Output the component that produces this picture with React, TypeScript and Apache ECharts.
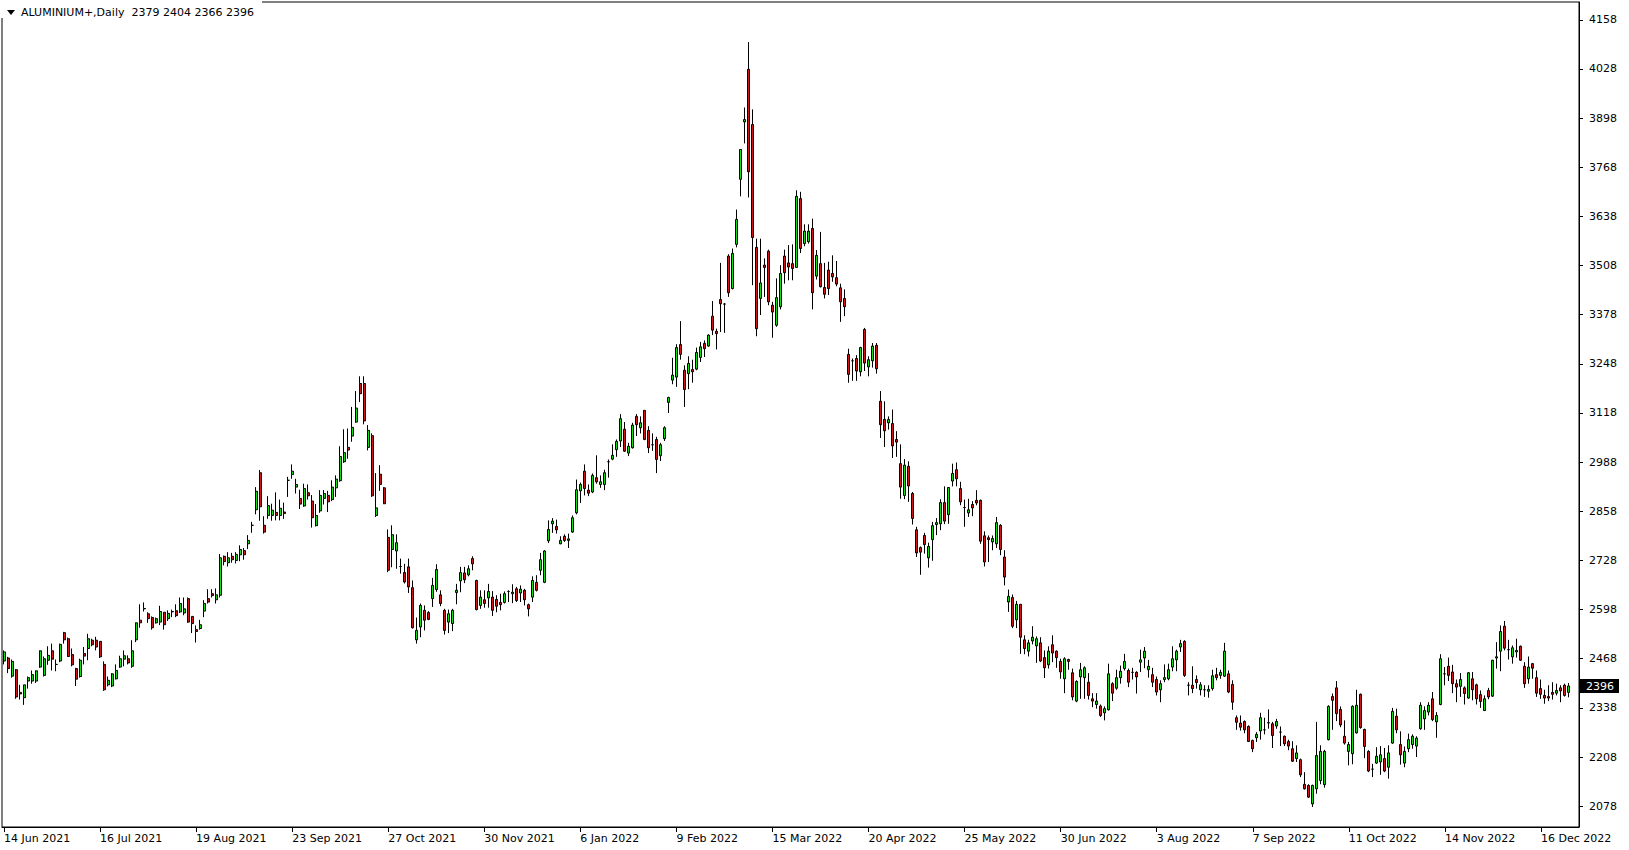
import { useEffect, useRef } from "react";
import * as echarts from "echarts";

const FONT = '"DejaVu Sans", Verdana, sans-serif';
const HEADER = "ALUMINIUM+,Daily  2379 2404 2366 2396";
const LAST_PRICE = 2396;
const START_DATE = [2021, 5, 14];
const LABEL_EVERY = 24;
const PAD_BARS = 2;
const HOLIDAYS = [
  "2021-08-30", "2021-12-27", "2021-12-28", "2022-01-03", "2022-04-15", "2022-04-18",
  "2022-05-02", "2022-06-02", "2022-06-03", "2022-08-29", "2022-12-26", "2022-12-27",
];
const MONTHS = ["Jan", "Feb", "Mar", "Apr", "May", "Jun", "Jul", "Aug", "Sep", "Oct", "Nov", "Dec"];
const PRICE_TICKS = [2078, 2208, 2338, 2468, 2598, 2728, 2858, 2988, 3118, 3248, 3378, 3508, 3638, 3768, 3898, 4028, 4158];
const Y_MIN = 2023;
const Y_MAX = 4205;

const opens = [
  2462,2470,2422,2439,2379,2365,2409,2409,2409,2446,
  2424,2464,2489,2453,2462,2537,2521,2479,2442,2421,
  2482,2495,2517,2517,2514,2453,2399,2396,2415,2446,
  2467,2468,2448,2518,2570,2600,2587,2577,2563,2565,
  2591,2574,2593,2595,2592,2589,2627,2580,2545,2548,
  2594,2627,2640,2624,2636,2739,2722,2739,2728,2743,
  2754,2772,2821,2862,2960,2821,2847,2847,2855,2847,
  2856,2940,2955,2922,2892,2872,2907,2885,2820,2859,
  2892,2900,2889,2920,2939,2989,3027,3057,3094,3196,
  3196,3027,3058,2847,2956,2920,2789,2757,2753,2712,
  2696,2711,2656,2518,2552,2596,2590,2627,2651,2637,
  2596,2565,2561,2643,2674,2695,2690,2733,2675,2609,
  2624,2629,2631,2625,2617,2617,2646,2640,2653,2642,
  2649,2611,2631,2670,2702,2670,2780,2825,2818,2772,
  2792,2781,2803,2854,2912,2964,2914,2909,2947,2929,
  2929,2989,2996,3021,3044,3075,3012,3026,3109,3079,
  3125,3072,3034,3048,3005,3050,3146,3205,3213,3299,
  3231,3222,3233,3234,3265,3302,3295,3374,3334,3418,
  3406,3533,3447,3564,3736,3888,4027,3881,3556,3421,
  3509,3546,3403,3350,3399,3533,3515,3513,3503,3685,
  3566,3571,3606,3480,3513,3450,3496,3487,3476,3449,
  3421,3273,3256,3262,3227,3339,3240,3256,3297,3149,
  3101,3092,3090,3048,2984,2900,2977,2905,2809,2762,
  2794,2735,2783,2823,2825,2881,2849,2938,2968,2918,
  2868,2854,2876,2887,2887,2793,2788,2777,2772,2821,
  2737,2618,2630,2571,2612,2518,2488,2515,2502,2510,
  2471,2452,2505,2488,2461,2415,2466,2431,2356,2420,
  2418,2406,2362,2347,2343,2325,2333,2402,2390,2418,
  2442,2437,2432,2432,2459,2470,2439,2426,2413,2386,
  2413,2415,2446,2465,2499,2514,2398,2398,2413,2386,
  2386,2382,2389,2426,2424,2422,2428,2400,2312,2298,
  2302,2289,2252,2259,2277,2280,2299,2296,2290,2274,
  2263,2249,2230,2204,2201,2136,2133,2084,2124,2146,
  2135,2254,2368,2391,2334,2263,2223,2217,2272,2374,
  2281,2223,2176,2192,2195,2204,2181,2245,2316,2241,
  2192,2230,2241,2237,2283,2309,2327,2362,2301,2347,
  2428,2448,2433,2402,2395,2391,2364,2415,2399,2373,
  2331,2384,2369,2470,2488,2554,2492,2473,2486,2501,
  2448,2415,2455,2418,2389,2371,2368,2379,2377,2391,
  2398,2379,
];

const highs = [
  2490,2473,2466,2441,2399,2399,2421,2437,2437,2490,
  2474,2501,2508,2466,2508,2539,2524,2495,2444,2468,
  2499,2534,2521,2526,2514,2461,2421,2430,2453,2476,
  2490,2477,2517,2564,2612,2617,2591,2580,2577,2608,
  2591,2596,2598,2612,2630,2630,2630,2580,2556,2571,
  2623,2652,2652,2654,2745,2741,2750,2748,2750,2768,
  2761,2795,2830,2922,2967,2845,2898,2878,2908,2889,
  2881,2949,2982,2944,2915,2931,2929,2901,2877,2914,
  2914,2912,2940,2953,3030,3075,3077,3134,3176,3215,
  3215,3086,3064,2959,2980,2922,2810,2821,2797,2733,
  2719,2733,2675,2577,2614,2609,2594,2682,2718,2649,
  2600,2598,2600,2666,2711,2711,2715,2739,2677,2649,
  2649,2666,2647,2636,2640,2646,2649,2665,2658,2662,
  2653,2614,2686,2689,2748,2755,2834,2840,2836,2792,
  2797,2799,2847,2942,2934,2982,2929,2958,3006,2953,
  2968,2995,3035,3048,3115,3094,3039,3092,3115,3109,
  3125,3083,3064,3055,3039,3083,3161,3264,3300,3361,
  3244,3268,3259,3291,3306,3310,3326,3414,3341,3515,
  3409,3538,3553,3656,3815,3926,4099,3921,3579,3579,
  3527,3550,3412,3474,3509,3550,3562,3564,3707,3703,
  3617,3617,3632,3549,3597,3515,3518,3535,3520,3460,
  3445,3288,3262,3271,3293,3343,3268,3303,3303,3176,
  3149,3109,3127,3070,3035,2996,2990,2909,2817,2765,
  2801,2775,2830,2840,2890,2924,2922,2984,2987,2936,
  2889,2891,2885,2914,2889,2805,2794,2794,2843,2824,
  2755,2651,2638,2621,2612,2530,2518,2554,2527,2525,
  2490,2501,2530,2490,2468,2472,2468,2442,2411,2457,
  2448,2430,2377,2377,2347,2342,2455,2406,2439,2450,
  2481,2442,2444,2435,2492,2499,2465,2444,2421,2411,
  2453,2455,2501,2492,2518,2517,2406,2448,2424,2406,
  2398,2398,2439,2444,2439,2510,2437,2411,2318,2318,
  2305,2292,2254,2274,2325,2312,2334,2301,2309,2289,
  2265,2254,2250,2239,2204,2168,2136,2135,2301,2239,
  2227,2345,2376,2409,2342,2305,2248,2345,2386,2376,
  2283,2226,2190,2234,2237,2232,2239,2338,2336,2276,
  2236,2270,2268,2263,2353,2342,2353,2380,2327,2480,
  2446,2471,2452,2413,2430,2395,2433,2433,2402,2384,
  2371,2391,2465,2512,2556,2568,2518,2503,2521,2503,
  2459,2474,2457,2437,2413,2386,2398,2406,2402,2398,
  2402,2404,
];

const lows = [
  2453,2430,2418,2362,2360,2346,2389,2402,2404,2444,
  2421,2452,2437,2435,2459,2508,2473,2448,2396,2418,
  2453,2464,2501,2490,2470,2383,2395,2393,2413,2444,
  2448,2453,2444,2512,2550,2593,2563,2545,2561,2557,
  2545,2568,2578,2578,2589,2583,2563,2536,2511,2545,
  2578,2614,2630,2614,2630,2715,2712,2722,2720,2726,
  2730,2758,2801,2850,2833,2799,2838,2833,2834,2834,
  2838,2896,2944,2905,2864,2870,2889,2815,2818,2854,
  2876,2856,2885,2896,2936,2986,2997,3042,3092,3147,
  3088,3019,2896,2843,2912,2877,2697,2710,2706,2693,
  2667,2642,2548,2508,2525,2543,2570,2605,2645,2607,
  2532,2536,2541,2612,2644,2668,2686,2702,2596,2600,
  2603,2603,2581,2591,2596,2614,2618,2615,2618,2618,
  2609,2580,2618,2646,2689,2668,2774,2801,2799,2771,
  2777,2761,2801,2850,2880,2900,2898,2906,2931,2920,
  2914,2947,2993,3002,3028,3015,3004,3024,3057,3064,
  3046,3012,3018,2959,2991,3044,3118,3194,3187,3259,
  3134,3181,3198,3231,3253,3266,3293,3324,3286,3332,
  3330,3425,3445,3556,3691,3831,3688,3456,3321,3377,
  3425,3403,3317,3346,3392,3460,3469,3469,3503,3541,
  3559,3566,3392,3471,3450,3421,3430,3465,3453,3359,
  3374,3198,3203,3203,3215,3229,3215,3238,3222,3052,
  3028,3074,2999,3002,2891,2890,2883,2823,2737,2690,
  2746,2709,2727,2795,2808,2824,2825,2924,2924,2874,
  2817,2843,2845,2874,2772,2712,2724,2755,2761,2742,
  2662,2592,2549,2549,2481,2480,2474,2506,2457,2459,
  2417,2442,2459,2444,2415,2377,2439,2358,2353,2362,
  2362,2360,2340,2336,2314,2305,2331,2356,2386,2402,
  2437,2393,2413,2376,2433,2443,2418,2393,2371,2353,
  2406,2411,2435,2435,2486,2420,2371,2377,2389,2371,
  2367,2365,2384,2411,2415,2420,2377,2333,2280,2278,
  2271,2248,2221,2248,2254,2268,2283,2232,2283,2237,
  2237,2226,2195,2195,2155,2122,2100,2076,2111,2136,
  2127,2252,2280,2303,2287,2241,2186,2189,2270,2283,
  2205,2168,2155,2190,2161,2168,2151,2243,2271,2188,
  2181,2221,2230,2208,2280,2280,2318,2303,2259,2345,
  2398,2409,2377,2353,2367,2347,2362,2358,2347,2338,
  2330,2361,2367,2442,2435,2490,2466,2455,2471,2462,
  2391,2402,2415,2367,2362,2349,2356,2360,2371,2353,
  2368,2366,
];

const closes = [
  2486,2442,2461,2367,2375,2399,2418,2426,2436,2489,
  2468,2477,2467,2453,2506,2518,2474,2452,2414,2464,
  2475,2521,2505,2499,2473,2386,2411,2428,2437,2468,
  2476,2457,2489,2563,2563,2601,2574,2550,2574,2593,
  2558,2588,2592,2582,2614,2600,2565,2561,2540,2558,
  2614,2618,2635,2637,2735,2725,2735,2730,2744,2757,
  2743,2781,2821,2911,2870,2803,2873,2861,2847,2866,
  2852,2940,2964,2929,2877,2918,2899,2841,2847,2900,
  2905,2883,2922,2943,3003,3013,3020,3080,3131,3169,
  3097,3072,2899,2867,2929,2878,2702,2796,2775,2712,
  2671,2658,2550,2543,2609,2570,2572,2662,2704,2614,
  2543,2587,2596,2649,2696,2677,2706,2719,2598,2631,
  2614,2646,2596,2607,2611,2640,2646,2644,2622,2652,
  2624,2600,2675,2649,2730,2753,2810,2832,2809,2781,
  2781,2785,2841,2915,2929,2918,2906,2953,2936,2936,
  2960,2989,3006,3043,3103,3017,3030,3086,3087,3092,
  3048,3026,3034,2995,3034,3079,3159,3218,3291,3273,
  3180,3249,3227,3278,3293,3288,3324,3337,3328,3407,
  3406,3436,3540,3630,3815,3894,3756,3582,3341,3462,
  3503,3412,3385,3423,3487,3489,3504,3500,3691,3553,
  3599,3599,3436,3535,3452,3432,3447,3478,3459,3412,
  3399,3220,3256,3229,3291,3250,3259,3295,3235,3087,
  3071,3101,3031,3041,2922,2980,2925,2839,2748,2750,
  2770,2765,2820,2828,2881,2832,2921,2958,2944,2883,
  2868,2862,2867,2880,2779,2724,2783,2786,2828,2757,
  2684,2633,2554,2612,2525,2495,2510,2525,2521,2462,
  2444,2488,2483,2471,2433,2468,2461,2367,2408,2439,
  2444,2371,2356,2356,2318,2336,2428,2377,2418,2435,
  2461,2406,2432,2420,2465,2488,2448,2406,2380,2402,
  2418,2439,2468,2488,2508,2424,2398,2389,2405,2399,
  2386,2387,2423,2418,2432,2488,2380,2353,2300,2287,
  2280,2249,2230,2268,2312,2280,2298,2265,2302,2274,
  2243,2237,2197,2219,2161,2124,2102,2133,2212,2223,
  2223,2342,2358,2323,2293,2245,2241,2342,2345,2286,
  2236,2171,2176,2210,2214,2171,2219,2329,2280,2214,
  2223,2254,2263,2258,2345,2331,2345,2307,2318,2468,
  2428,2424,2402,2393,2413,2376,2431,2386,2362,2355,
  2362,2367,2464,2473,2540,2496,2492,2497,2490,2464,
  2402,2446,2443,2377,2374,2364,2364,2374,2384,2383,
  2371,2396,
];

function pad2(n: number) {
  return n < 10 ? "0" + n : String(n);
}

function buildDates(count: number): string[] {
  const out: string[] = [];
  let t = Date.UTC(START_DATE[0], START_DATE[1], START_DATE[2]);
  while (out.length < count) {
    const d = new Date(t);
    const dow = d.getUTCDay();
    const iso = d.getUTCFullYear() + "-" + pad2(d.getUTCMonth() + 1) + "-" + pad2(d.getUTCDate());
    if (dow !== 0 && dow !== 6 && HOLIDAYS.indexOf(iso) < 0) {
      out.push(d.getUTCDate() + " " + MONTHS[d.getUTCMonth()] + " " + d.getUTCFullYear());
    }
    t += 86400000;
  }
  return out;
}

export default function App() {
  const ref = useRef<HTMLDivElement>(null);
  useEffect(() => {
    document.body.style.margin = "0";
    const el = ref.current;
    if (!el) return;
    const chart = echarts.init(el, null, { renderer: "svg" });
    const categories = buildDates(opens.length + PAD_BARS);
    const data = opens.map((o, i) => [o, closes[i], lows[i], highs[i]]);
    const headerGraphics = [
      { id: "hdrBg", type: "rect", shape: { x: 0, y: 0, width: 262, height: 18 }, style: { fill: "#fff" }, z: 100 },
      { id: "hdrTri", type: "polygon", shape: { points: [[7, 10], [15, 10], [11, 15]] }, style: { fill: "#000" }, z: 101 },
      {
        id: "hdrText",
        type: "text",
        x: 21,
        y: 12.5,
        style: { text: HEADER, fill: "#000", fontSize: 11, fontFamily: FONT, verticalAlign: "middle", align: "left" },
        z: 101,
      },
    ];
    chart.setOption({
      animation: false,
      backgroundColor: "#ffffff",
      textStyle: { fontFamily: FONT },
      grid: {
        left: 2,
        right: 50,
        top: 2,
        bottom: 23,
        show: true,
        borderColor: "#000",
        borderWidth: 1,
        backgroundColor: "transparent",
      },
      xAxis: {
        type: "category",
        data: categories,
        boundaryGap: true,
        axisLine: { show: true, lineStyle: { color: "#000", width: 1 } },
        axisTick: {
          show: true,
          interval: LABEL_EVERY - 1,
          alignWithLabel: true,
          length: 5,
          lineStyle: { color: "#000" },
        },
        axisLabel: {
          show: true,
          interval: LABEL_EVERY - 1,
          align: "left",
          margin: 6,
          color: "#000",
          fontSize: 11,
          fontFamily: FONT,
          hideOverlap: false,
        },
        splitLine: { show: false },
      },
      yAxis: {
        type: "value",
        position: "right",
        min: Y_MIN,
        max: Y_MAX,
        scale: true,
        axisLine: { show: true, lineStyle: { color: "#000" } },
        axisTick: { show: true, length: 4, customValues: PRICE_TICKS, lineStyle: { color: "#000" } },
        axisLabel: {
          customValues: PRICE_TICKS,
          margin: 10,
          color: "#000",
          fontSize: 11,
          fontFamily: FONT,
          formatter: (v: number) => String(v),
        },
        splitLine: { show: false },
      },
      series: [
        {
          type: "candlestick",
          data,
          barWidth: 2.5,
          clip: false,
          itemStyle: {
            color: "#10e010",
            color0: "#d41414",
            borderColor: "#000",
            borderColor0: "#000",
            borderColorDoji: "#000",
            borderWidth: 1,
          },
          emphasis: { disabled: true },
        },
      ],
      graphic: headerGraphics,
    });

    // Current-price marker, placed through the y axis scale.
    const py = chart.convertToPixel({ yAxisIndex: 0 }, LAST_PRICE) as number;
    const rightEdge = 1629 - 50;
    chart.setOption({
      graphic: [
        ...headerGraphics,
        {
          id: "lastBox",
          type: "rect",
          shape: { x: rightEdge + 1, y: Math.round(py) - 7, width: 39, height: 14 },
          style: { fill: "#000" },
          z: 102,
        },
        {
          id: "lastText",
          type: "text",
          x: rightEdge + 7,
          y: Math.round(py),
          style: {
            text: String(LAST_PRICE),
            fill: "#fff",
            fontSize: 11,
            fontFamily: FONT,
            verticalAlign: "middle",
            align: "left",
          },
          z: 103,
        },
      ],
    });
    return () => chart.dispose();
  }, []);
  return <div ref={ref} style={{ position: "absolute", left: 0, top: 0, width: 1629, height: 850 }} />;
}
